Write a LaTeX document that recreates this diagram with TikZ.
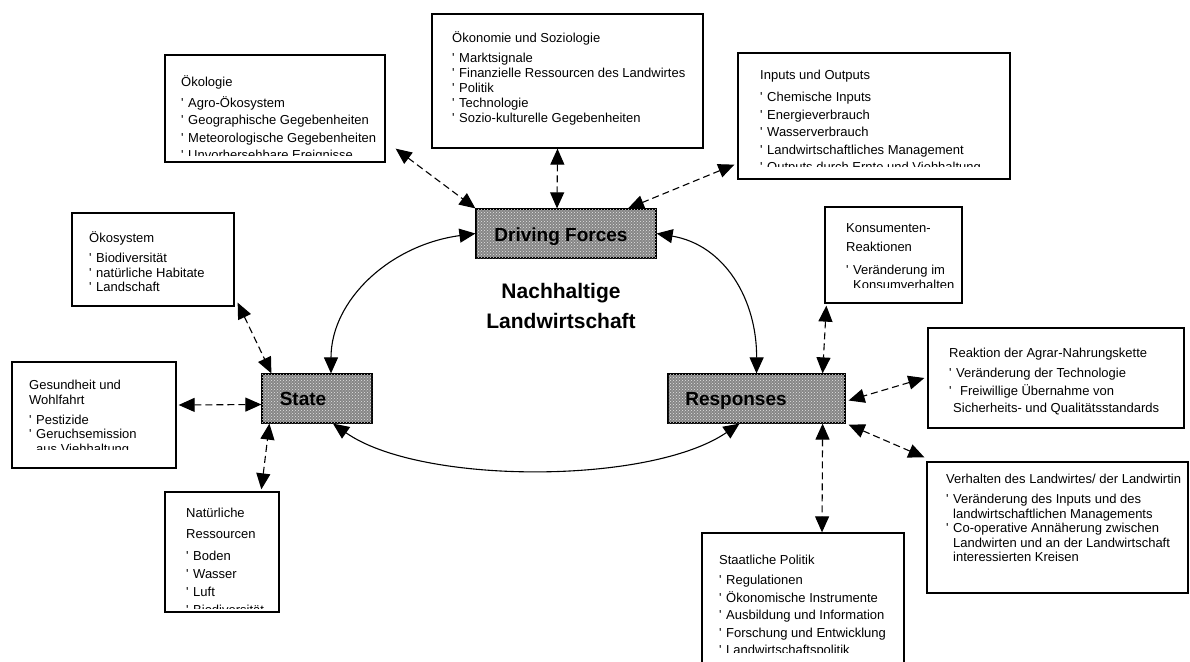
\documentclass[tikz,border=0pt]{standalone}
\usepackage{fontspec}
\setmainfont{Liberation Sans}
\usetikzlibrary{arrows.meta,patterns,fit}
\newcommand\bulletmark{\makebox[7pt][l]{\textquotesingle}}
\newcommand\contindent{\hspace*{7pt}}
\begin{document}
\begin{tikzpicture}[x=1pt,y=-1pt,
  >={Triangle[length=16pt,width=14pt]},
  box/.style={draw, line width=1.3pt, inner sep=0pt},
  txt/.style={inner sep=0pt, anchor=north west, align=left, font=\fontsize{13}{15}\selectfont},
  core/.style={draw, line width=1.2pt, fill=gray!95, postaction={pattern=crosshatch dots, pattern color=white!80!gray}, inner sep=0pt},
  lbl/.style={inner sep=0pt, anchor=base, font=\fontsize{19}{22}\selectfont\bfseries},
  link/.style={<->, line width=1.1pt, dash pattern=on 7pt off 4pt},
  flow/.style={<->, line width=1.1pt}]
\useasboundingbox (0,0) rectangle (1190,661);

% ---------- information boxes ----------
\node[box, fit={(165,55) (385,162)}] (eco) {};
\begin{scope}\clip (165,55) rectangle (385,155);
\node[txt, font=\fontsize{13}{17.5}\selectfont] (ecot) at (181,74.5) {\rule{0pt}{12pt}Ökologie\\[3pt]
\bulletmark Agro-Ökosystem\\
\bulletmark Geographische Gegebenheiten\\
\bulletmark Meteorologische Gegebenheiten\\
\bulletmark Unvorhersehbare Ereignisse};
\end{scope}

\node[box, fit={(432,14) (703,148)}] (econ) {};
\begin{scope}\clip (432,14) rectangle (703,148);
\node[txt] (econt) at (452,30.5) {\rule{0pt}{12pt}Ökonomie und Soziologie\\[5pt]
\bulletmark Marktsignale\\
\bulletmark Finanzielle Ressourcen des Landwirtes\\
\bulletmark Politik\\
\bulletmark Technologie\\
\bulletmark Sozio-kulturelle Gegebenheiten};
\end{scope}

\node[box, fit={(738,53) (1010,179)}] (inout) {};
\begin{scope}\clip (738,53) rectangle (1010,166.5);
\node[txt, font=\fontsize{13}{17.5}\selectfont] (inoutt) at (760,67.5) {\rule{0pt}{12pt}Inputs und Outputs\\[4.5pt]
\bulletmark Chemische Inputs\\
\bulletmark Energieverbrauch\\
\bulletmark Wasserverbrauch\\
\bulletmark Landwirtschaftliches Management\\
\bulletmark Outputs durch Ernte und Viehhaltung};
\end{scope}

\node[box, fit={(72,213) (234,306)}] (ecosys) {};
\node[txt, font=\fontsize{13}{14.5}\selectfont] (ecosyst) at (89,230.5) {\rule{0pt}{12pt}Ökosystem\\[5.5pt]
\bulletmark Biodiversität\\
\bulletmark natürliche Habitate\\
\bulletmark Landschaft};

\node[box, fit={(12,362) (176,468)}] (health) {};
\begin{scope}\clip (12,362) rectangle (176,449);
\node[txt, font=\fontsize{13}{14.5}\selectfont] (healtht) at (29,377.5) {\rule{0pt}{12pt}Gesundheit und\\
Wohlfahrt\\[5.5pt]
\bulletmark Pestizide\\
\bulletmark Geruchsemission\\
\contindent aus Viehhaltung};
\end{scope}

\node[box, fit={(825,207) (962,303)}] (konsum) {};
\begin{scope}\clip (825,207) rectangle (962,287);
\node[txt] (konsumt) at (846,220.5) {\rule{0pt}{12pt}Konsumenten-\\[4pt]
Reaktionen\\[8pt]
\bulletmark Veränderung im\\
\contindent Konsumverhalten};
\end{scope}

\node[box, fit={(928,328) (1184,428)}] (reakt) {};
\node[txt, font=\fontsize{13}{17.5}\selectfont] (reaktt) at (949,345.5) {\rule{0pt}{12pt}Reaktion der Agrar-Nahrungskette\\[2.5pt]
\bulletmark Veränderung der Technologie\\
\bulletmark\hspace{4pt}Freiwillige Übernahme von\\
\hspace*{4pt}Sicherheits- und Qualitätsstandards};

\node[box, fit={(927,462) (1188,593)}] (verh) {};
\node[txt, font=\fontsize{13}{14.5}\selectfont] (verht) at (946,471) {\rule{0pt}{12pt}Verhalten des Landwirtes/ der Landwirtin\\[6pt]
\bulletmark Veränderung des Inputs und des\\
\contindent landwirtschaftlichen Managements\\
\bulletmark Co-operative Annäherung zwischen\\
\contindent Landwirten und an der Landwirtschaft\\
\contindent interessierten Kreisen};

\node[box, fit={(165,492) (279,612)}] (natres) {};
\begin{scope}\clip (165,492) rectangle (279,608);
\node[txt, font=\fontsize{13}{18}\selectfont] (natrest) at (186,505.5) {\rule{0pt}{12pt}Natürliche\\[3pt]
Ressourcen\\[4pt]
\bulletmark Boden\\
\bulletmark Wasser\\
\bulletmark Luft\\
\bulletmark Biodiversität};
\end{scope}

\node[box, fit={(702,533) (904,668)}] (staat) {};
\begin{scope}\clip (702,533) rectangle (904,652);
\node[txt, font=\fontsize{13}{17.5}\selectfont] (staatt) at (719,552.5) {\rule{0pt}{12pt}Staatliche Politik\\[2.5pt]
\bulletmark Regulationen\\
\bulletmark Ökonomische Instrumente\\
\bulletmark Ausbildung und Information\\
\bulletmark Forschung und Entwicklung\\
\bulletmark Landwirtschaftspolitik};
\end{scope}

% ---------- core nodes ----------
\node[core, fit={(476,209) (656,258)}] (df) {};
\node[lbl] (dft) at (561,241) {Driving Forces};
\node[core, fit={(262,374) (372,423)}] (state) {};
\node[lbl] (statet) at (303,405) {State};
\node[core, fit={(668,374) (845,423)}] (resp) {};
\node[lbl] (respt) at (736,405) {Responses};

\node[inner sep=0pt, align=center, font=\fontsize{21}{30}\selectfont\bfseries] (title) at (561,306) {Nachhaltige\\Landwirtschaft};

% ---------- solid cycle ----------
\draw[flow] (df.west) .. controls (390,245) and (331,300) .. ([xshift=14pt]state.north);
\draw[flow] (df.east) .. controls (725,245) and (757,300) .. (resp.north);
\draw[flow] ([xshift=16pt]state.south) .. controls (420,485) and (650,485) .. ([xshift=-17pt]resp.south);

% ---------- dashed links ----------
\draw[link] ([xshift=10pt,yshift=14pt]eco.south east) -- (df.north west);
\draw[link] ([xshift=-10pt]econ.south) -- ([xshift=-9pt]df.north);
\draw[link] ([xshift=-3pt,yshift=15pt]inout.south west) -- ([xshift=62pt]df.north);
\draw[link] ([xshift=3pt,yshift=4pt]ecosys.south east) -- ([xshift=10pt]state.north west);
\draw[link] ([xshift=2pt,yshift=10pt]health.east) -- ([yshift=-6pt]state.west);
\draw[link] ([xshift=97pt,yshift=2pt]natres.north west) -- ([xshift=8pt]state.south west);
\draw[link] ([xshift=2pt,yshift=-2pt]konsum.south west) -- ([xshift=-23pt]resp.north east);
\draw[link] ([xshift=-3pt]reakt.west) -- ([xshift=3pt,yshift=-2pt]resp.east);
\draw[link] ([xshift=-2pt,yshift=4pt]verh.north west) -- ([xshift=3pt,yshift=-1pt]resp.south east);
\draw[link] ([xshift=-23pt]resp.south east) -- ([xshift=19pt]staat.north);
\end{tikzpicture}
\end{document}
